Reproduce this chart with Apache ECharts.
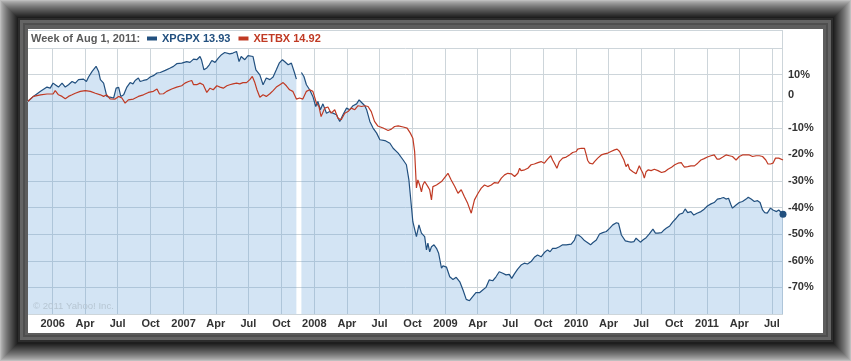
<!DOCTYPE html>
<html><head><meta charset="utf-8">
<script src="https://cdn.jsdelivr.net/npm/echarts@6/dist/echarts.min.js"></script>
<style>
html,body{margin:0;padding:0;width:851px;height:361px;overflow:hidden;background:#bdbdbd;}
.fr{position:absolute;}
#band1{position:absolute;left:18px;top:18px;width:815px;height:324px;background:#2c2c2c;}
#band2{position:absolute;left:20px;top:20px;width:811px;height:320px;background:#646464;}
#band3{position:absolute;left:23px;top:23px;width:805px;height:314px;background:#4e4e4e;}
#band4{position:absolute;left:25px;top:25px;width:801px;height:310px;background:#5d5d5d;}
#panel{position:absolute;left:28px;top:29px;width:795px;height:304px;background:#fff;}
#box{position:absolute;left:28px;top:30px;width:754px;height:283px;border-top:1px solid #cdd5da;border-right:1px solid #cdd5da;}
#chart{position:absolute;left:0;top:0;width:851px;height:361px;}
</style></head>
<body>
<div id="frames"></div>
<div id="band1"></div><div id="band2"></div><div id="band3"></div><div id="band4"></div>
<div id="panel"></div><div id="box"></div>
<div id="chart"></div>
<script>
// ---- data (percent change since first week) ----
const headerText = 'Week of Aug 1, 2011:';
const seriesNames = ['XPGPX', 'XETBX'];
const lastPrices = [13.93, 14.92];
const xTickDates = ['2006-01-01','2006-04-01','2006-07-01','2006-10-01','2007-01-01','2007-04-01','2007-07-01','2007-10-01','2008-01-01','2008-04-01','2008-07-01','2008-10-01','2009-01-01','2009-04-01','2009-07-01','2009-10-01','2010-01-01','2010-04-01','2010-07-01','2010-10-01','2011-01-01','2011-04-01','2011-07-01'];
const xTickLabels = ['2006','Apr','Jul','Oct','2007','Apr','Jul','Oct','2008','Apr','Jul','Oct','2009','Apr','Jul','Oct','2010','Apr','Jul','Oct','2011','Apr','Jul'];
const xRange = ['2005-10-24', '2011-08-01'];
const yTicks = [20, 10, 0, -10, -20, -30, -40, -50, -60, -70, -80];

const xpgpx = [
['2005-10-24',0],['2005-11-08',1.8],['2005-11-28',3.7],['2005-12-16',5.3],['2005-12-25',4.9],
['2006-01-02',6.8],['2006-01-08',6.2],['2006-01-17',5.3],['2006-01-27',6.8],['2006-02-05',5.3],
['2006-02-14',6.2],['2006-02-24',7.4],['2006-03-05',6.8],['2006-03-14',8.1],['2006-03-28',8.3],
['2006-04-05',7.4],['2006-04-11',9.1],['2006-04-21',11.2],['2006-05-02',13.1],['2006-05-09',11.2],
['2006-05-14',8.1],['2006-05-23',6.8],['2006-06-01',1.8],['2006-06-10',1.5],['2006-06-20',1.2],
['2006-06-27',4.9],['2006-07-04',5.2],['2006-07-10',1.8],['2006-07-18',2.4],['2006-07-27',5.3],
['2006-08-05',7.0],['2006-08-13',6.5],['2006-08-19',7.8],['2006-08-28',8.7],['2006-09-02',7.4],
['2006-09-11',7.8],['2006-09-21',8.1],['2006-09-30',9.1],['2006-10-09',9.6],['2006-10-19',10.6],
['2006-10-28',10.8],['2006-11-11',11.6],['2006-11-25',12.5],['2006-12-04',13.1],['2006-12-13',14.1],
['2006-12-27',14.3],['2007-01-01',14.1],['2007-01-10',14.9],['2007-01-19',14.6],['2007-01-29',15.8],
['2007-02-07',15.6],['2007-02-16',16.8],['2007-02-20',15.6],['2007-02-27',11.8],['2007-03-07',12.5],
['2007-03-14',13.7],['2007-03-21',15.3],['2007-03-30',14.6],['2007-04-08',16.2],['2007-04-17',17.5],
['2007-04-26',18.3],['2007-05-10',17.8],['2007-05-19',18.1],['2007-05-29',18.7],['2007-06-05',14.9],
['2007-06-11',16.8],['2007-06-21',15.6],['2007-06-30',17.1],['2007-07-14',16.8],['2007-07-22',11.8],
['2007-08-02',9.9],['2007-08-11',6.2],['2007-08-20',8.7],['2007-08-30',8.1],['2007-09-08',9.1],
['2007-09-17',11.8],['2007-09-25',14.3],['2007-10-04',15.6],['2007-10-10',14.9],['2007-10-20',13.7],
['2007-10-29',14.3],['2007-11-07',10.6],['2007-11-12',8.3],['2007-11-19',null],['2007-11-26',10.8],
['2007-12-03',9.3],['2007-12-10',6.2],['2007-12-19',4.3],['2007-12-28',1.8],['2008-01-05',-2.0],
['2008-01-11',-0.1],['2008-01-18',-3.2],['2008-01-25',-1.0],['2008-02-04',-4.5],['2008-02-13',-3.9],
['2008-02-22',-4.5],['2008-03-03',-5.1],['2008-03-12',-7.6],['2008-03-21',-5.1],['2008-03-31',-2.6],
['2008-04-09',-3.2],['2008-04-18',-1.7],['2008-04-28',-1.0],['2008-05-05',0.5],['2008-05-12',-0.5],
['2008-05-21',-1.7],['2008-05-26',-3.2],['2008-06-04',-7.6],['2008-06-13',-10.1],['2008-06-23',-12.0],
['2008-07-02',-14.5],['2008-07-16',-14.8],['2008-07-30',-15.8],['2008-08-08',-17.7],['2008-08-22',-19.5],
['2008-09-05',-22.1],['2008-09-14',-23.9],['2008-09-21',-29.6],['2008-09-28',-39.6],['2008-10-02',-45.3],
['2008-10-07',-45.9],['2008-10-12',-50.9],['2008-10-19',-46.5],['2008-10-26',-49.6],['2008-11-04',-50.9],
['2008-11-09',-55.9],['2008-11-13',-53.4],['2008-11-18',-56.6],['2008-11-23',-54.7],['2008-11-30',-54.0],
['2008-12-07',-55.3],['2008-12-13',-57.2],['2008-12-21',-62.8],['2008-12-25',-61.9],['2009-01-04',-62.4],
['2009-01-13',-66.0],['2009-01-22',-67.0],['2009-01-31',-66.2],['2009-02-10',-67.9],['2009-02-19',-71.0],
['2009-02-28',-74.5],['2009-03-09',-75.0],['2009-03-18',-73.5],['2009-03-27',-72.0],['2009-04-06',-72.0],
['2009-04-15',-71.0],['2009-04-24',-70.0],['2009-05-03',-67.2],['2009-05-13',-67.5],['2009-05-22',-66.0],
['2009-05-31',-64.1],['2009-06-10',-64.7],['2009-06-19',-65.3],['2009-06-28',-65.1],['2009-07-05',-66.6],
['2009-07-12',-65.0],['2009-07-21',-63.2],['2009-07-31',-61.6],['2009-08-09',-60.9],['2009-08-18',-61.2],
['2009-08-28',-60.3],['2009-09-06',-58.7],['2009-09-15',-57.8],['2009-09-25',-58.5],['2009-10-04',-56.9],
['2009-10-13',-55.9],['2009-10-20',-56.6],['2009-10-27',-55.3],['2009-11-06',-55.3],['2009-11-15',-54.7],
['2009-11-24',-54.0],['2009-12-04',-54.0],['2009-12-18',-53.7],['2009-12-27',-52.2],['2010-01-01',-50.3],
['2010-01-07',-50.3],['2010-01-15',-51.1],['2010-01-24',-52.4],['2010-02-02',-53.2],['2010-02-10',-54.0],
['2010-02-16',-53.2],['2010-02-26',-52.2],['2010-03-07',-49.9],['2010-03-16',-49.4],['2010-03-26',-49.0],
['2010-04-04',-47.8],['2010-04-13',-46.5],['2010-04-23',-45.7],['2010-04-29',-45.9],['2010-05-07',-50.3],
['2010-05-12',-49.9],['2010-05-18',-52.5],['2010-05-27',-52.8],['2010-06-03',-53.0],['2010-06-11',-52.8],
['2010-06-17',-51.5],['2010-06-22',-52.2],['2010-06-29',-53.0],['2010-07-06',-52.2],['2010-07-15',-51.3],
['2010-07-24',-49.9],['2010-08-03',-48.1],['2010-08-10',-49.6],['2010-08-17',-49.6],['2010-08-27',-49.4],
['2010-09-03',-48.4],['2010-09-09',-47.8],['2010-09-19',-46.9],['2010-09-28',-45.3],['2010-10-07',-44.0],
['2010-10-16',-42.5],['2010-10-25',-42.1],['2010-11-01',-40.5],['2010-11-08',-41.9],['2010-11-17',-41.5],
['2010-11-25',-42.8],['2010-12-04',-42.1],['2010-12-15',-41.5],['2010-12-24',-40.6],['2011-01-02',-39.4],
['2011-01-12',-38.6],['2011-01-21',-38.1],['2011-01-30',-36.8],['2011-02-09',-36.5],['2011-02-16',-36.2],
['2011-02-23',-36.8],['2011-03-02',-36.5],['2011-03-09',-39.0],['2011-03-13',-40.2],['2011-03-23',-39.0],
['2011-04-01',-38.1],['2011-04-10',-37.7],['2011-04-20',-36.8],['2011-04-26',-36.1],['2011-05-04',-36.8],
['2011-05-13',-37.7],['2011-05-22',-37.4],['2011-05-29',-38.1],['2011-06-05',-40.9],['2011-06-11',-41.9],
['2011-06-18',-42.1],['2011-06-27',-40.2],['2011-07-04',-40.9],['2011-07-14',-41.5],['2011-07-20',-40.9],
['2011-08-01',-42.5]
];

const xetbx = [
['2005-10-24',0],['2005-11-08',1.8],['2005-11-28',2.4],['2005-12-16',2.7],['2006-01-02',2.7],
['2006-01-08',4.0],['2006-01-17',2.4],['2006-01-27',1.8],['2006-02-05',0.9],['2006-02-14',1.8],
['2006-02-24',2.4],['2006-03-05',3.0],['2006-03-19',3.7],['2006-04-02',4.0],['2006-04-16',3.7],
['2006-04-30',3.0],['2006-05-14',2.4],['2006-05-23',1.8],['2006-06-01',2.4],['2006-06-10',0.9],
['2006-06-24',0.8],['2006-07-04',1.8],['2006-07-13',1.2],['2006-07-22',-0.7],['2006-07-31',0.5],
['2006-08-14',0.8],['2006-08-28',1.8],['2006-09-11',2.4],['2006-09-25',3.3],['2006-10-09',3.7],
['2006-10-19',4.6],['2006-10-26',2.7],['2006-11-06',2.8],['2006-11-15',3.7],['2006-11-29',4.6],
['2006-12-13',5.3],['2006-12-27',5.8],['2007-01-05',6.8],['2007-01-15',7.4],['2007-01-24',7.8],
['2007-01-29',6.2],['2007-02-07',6.2],['2007-02-16',6.8],['2007-02-25',6.2],['2007-03-07',3.3],
['2007-03-16',4.9],['2007-03-25',4.3],['2007-04-04',5.8],['2007-04-13',5.3],['2007-04-22',4.9],
['2007-05-02',5.8],['2007-05-10',6.2],['2007-05-19',6.5],['2007-05-29',6.8],['2007-06-07',6.5],
['2007-06-16',7.0],['2007-06-26',7.0],['2007-07-05',8.1],['2007-07-12',9.3],['2007-07-19',7.0],
['2007-07-25',4.3],['2007-08-02',1.5],['2007-08-11',2.4],['2007-08-20',1.8],['2007-08-30',2.8],
['2007-09-08',4.0],['2007-09-17',5.3],['2007-09-27',6.2],['2007-10-06',7.0],['2007-10-15',5.8],
['2007-10-24',4.3],['2007-11-02',3.7],['2007-11-12',0.8],['2007-11-21',1.2],['2007-11-30',0.8],
['2007-12-10',3.7],['2007-12-19',4.3],['2007-12-28',3.7],['2008-01-07',-0.7],['2008-01-14',-2.0],
['2008-01-20',-5.8],['2008-01-30',-2.6],['2008-02-08',-2.2],['2008-02-17',-4.5],['2008-02-27',-3.2],
['2008-03-07',-6.4],['2008-03-16',-7.0],['2008-03-26',-4.5],['2008-04-04',-3.9],['2008-04-13',-2.6],
['2008-04-23',-3.2],['2008-05-02',-1.7],['2008-05-12',-2.0],['2008-05-21',-1.7],['2008-05-30',-2.0],
['2008-06-08',-3.9],['2008-06-17',-7.6],['2008-06-26',-9.3],['2008-07-11',-10.1],['2008-07-25',-11.0],
['2008-08-03',-10.5],['2008-08-12',-9.5],['2008-08-22',-9.3],['2008-09-05',-9.7],['2008-09-16',-10.1],
['2008-09-25',-12.0],['2008-10-02',-13.9],['2008-10-07',-18.9],['2008-10-12',-32.6],['2008-10-16',-29.6],
['2008-10-21',-31.5],['2008-10-26',-34.1],['2008-10-30',-31.5],['2008-11-04',-30.2],['2008-11-13',-32.1],
['2008-11-18',-33.3],['2008-11-23',-37.1],['2008-11-27',-32.1],['2008-12-07',-31.5],['2008-12-21',-30.2],
['2009-01-08',-27.1],['2009-01-17',-29.6],['2009-01-27',-32.1],['2009-02-05',-34.6],['2009-02-14',-33.3],
['2009-02-23',-35.9],['2009-03-04',-38.4],['2009-03-14',-42.1],['2009-03-23',-37.1],['2009-04-02',-34.6],
['2009-04-11',-32.7],['2009-04-20',-31.5],['2009-04-29',-32.1],['2009-05-09',-31.5],['2009-05-18',-30.6],
['2009-05-28',-30.8],['2009-06-06',-28.9],['2009-06-15',-27.7],['2009-06-24',-27.1],['2009-07-04',-27.3],
['2009-07-13',-28.3],['2009-07-22',-27.1],['2009-07-27',-25.2],['2009-07-31',-26.1],['2009-08-10',-25.8],
['2009-08-19',-25.2],['2009-08-28',-23.9],['2009-09-06',-23.6],['2009-09-16',-23.1],['2009-09-25',-22.7],
['2009-10-04',-23.3],['2009-10-13',-21.8],['2009-10-22',-20.5],['2009-10-27',-22.1],['2009-11-01',-23.3],
['2009-11-08',-25.2],['2009-11-15',-22.7],['2009-11-24',-21.4],['2009-12-04',-21.0],['2009-12-13',-20.2],
['2009-12-22',-19.3],['2010-01-01',-18.9],['2010-01-05',-18.0],['2010-01-15',-17.7],['2010-01-19',-17.3],
['2010-01-24',-17.7],['2010-01-29',-20.2],['2010-02-02',-22.3],['2010-02-07',-23.3],['2010-02-16',-23.6],
['2010-02-21',-22.7],['2010-03-02',-21.4],['2010-03-12',-20.2],['2010-03-21',-19.8],['2010-03-30',-19.5],
['2010-04-08',-18.9],['2010-04-18',-18.3],['2010-04-25',-18.0],['2010-05-02',-18.9],['2010-05-06',-19.5],
['2010-05-14',-22.1],['2010-05-20',-24.6],['2010-05-25',-23.6],['2010-05-30',-25.6],['2010-06-08',-26.5],
['2010-06-17',-27.3],['2010-06-22',-25.6],['2010-06-26',-24.3],['2010-07-01',-25.8],['2010-07-06',-27.1],
['2010-07-10',-28.9],['2010-07-15',-26.5],['2010-07-21',-25.8],['2010-07-29',-26.1],['2010-08-07',-25.6],
['2010-08-17',-26.1],['2010-08-27',-26.8],['2010-09-05',-26.5],['2010-09-14',-25.6],['2010-09-24',-24.8],
['2010-10-03',-23.9],['2010-10-12',-23.3],['2010-10-21',-23.1],['2010-10-25',-23.9],['2010-10-30',-24.8],
['2010-11-08',-24.6],['2010-11-17',-24.3],['2010-11-27',-24.3],['2010-12-06',-23.3],['2010-12-15',-22.1],
['2010-12-24',-21.6],['2011-01-02',-21.0],['2011-01-12',-20.5],['2011-01-21',-20.2],['2011-01-29',-21.8],
['2011-02-04',-21.8],['2011-02-14',-21.0],['2011-02-23',-20.2],['2011-03-04',-20.5],['2011-03-13',-20.8],
['2011-03-23',-22.1],['2011-04-01',-20.8],['2011-04-10',-20.2],['2011-04-20',-20.2],['2011-04-29',-20.2],
['2011-05-08',-20.8],['2011-05-18',-20.5],['2011-05-27',-20.5],['2011-06-05',-20.8],['2011-06-14',-22.1],
['2011-06-20',-23.6],['2011-06-27',-23.6],['2011-07-04',-23.3],['2011-07-11',-21.4],['2011-07-20',-21.4],
['2011-08-01',-22.1]
];

// ---- picture-frame bevel (decoration only) ----
(function () {
  const host = document.getElementById('frames');
  const steps = 18;
  for (let i = 0; i < steps; i++) {
    const t = i / (steps - 1);
    const c = Math.round(190 - (190 - 30) * Math.pow(t, 0.8));
    const d = document.createElement('div');
    d.className = 'fr';
    d.style.left = i + 'px'; d.style.top = i + 'px';
    d.style.width = (851 - 2 * i) + 'px'; d.style.height = (361 - 2 * i) + 'px';
    d.style.background = 'rgb(' + c + ',' + c + ',' + c + ')';
    host.appendChild(d);
  }
})();

// ---- styling ----
const blue = '#22507f';
const red = '#c03a24';
const gridColor = '#cdd5da';
const font = 'Liberation Sans';

const toTime = d => Date.UTC(+d.slice(0, 4), +d.slice(5, 7) - 1, +d.slice(8, 10));
const tickTimes = xTickDates.map(toTime);

const blueData = xpgpx.map((p, i) => {
  const item = { value: [toTime(p[0]), p[1]] };
  if (i === xpgpx.length - 1) { item.symbol = 'circle'; item.symbolSize = 7; }
  return item;
});
const redData = xetbx.map(p => [toTime(p[0]), p[1]]);

const chart = echarts.init(document.getElementById('chart'), null, { renderer: 'canvas' });
chart.setOption({
  animation: false,
  backgroundColor: 'transparent',
  textStyle: { fontFamily: font },
  grid: { left: 28, right: 68, top: 48, bottom: 47 },
  title: {
    text: headerText, left: 31, top: 33, padding: 0,
    textStyle: { fontSize: 11, fontWeight: 'bold', color: '#5a5a5a', fontFamily: font }
  },
  legend: {
    left: 147, top: 33, padding: 0, icon: 'rect', itemWidth: 10, itemHeight: 4, itemGap: 8,
    formatter: name => name + ' ' + lastPrices[seriesNames.indexOf(name)].toFixed(2),
    data: [
      { name: seriesNames[0], textStyle: { color: blue } },
      { name: seriesNames[1], textStyle: { color: red } }
    ],
    textStyle: { fontSize: 11, fontWeight: 'bold', fontFamily: font }
  },
  xAxis: {
    type: 'value', min: toTime(xRange[0]), max: toTime(xRange[1]),
    axisLine: { show: true, lineStyle: { color: gridColor } },
    axisTick: { show: false, customValues: tickTimes },
    axisLabel: {
      customValues: tickTimes, margin: 4, fontSize: 11, fontWeight: 'bold', color: '#333', fontFamily: font,
      formatter: v => { const i = tickTimes.indexOf(+v); return i >= 0 ? xTickLabels[i] : ''; }
    },
    splitLine: { show: true, lineStyle: { color: gridColor, width: 1 } }
  },
  yAxis: {
    type: 'value', position: 'right', min: yTicks[yTicks.length - 1], max: yTicks[0], interval: 10,
    axisLine: { show: false }, axisTick: { show: false },
    axisLabel: {
      margin: 5, fontSize: 11, fontWeight: 'bold', color: '#333', fontFamily: font,
      formatter: v => (v === yTicks[0] || v === yTicks[yTicks.length - 1]) ? '' : (v === 0 ? '{z|0}' : v + '%'),
      rich: { z: { fontSize: 11, fontWeight: 'bold', color: '#333', fontFamily: font, padding: [0, 0, 13, 0] } }
    },
    splitLine: { show: true, lineStyle: { color: gridColor, width: 1 } }
  },
  graphic: [{
    type: 'text', left: 33, top: 301, z: 10,
    style: { text: '© 2011 Yahoo! Inc.', fill: '#b7c6d3', font: '9.6px "Liberation Sans"' }
  }],
  series: [
    {
      name: seriesNames[0], type: 'line', data: blueData, symbol: 'none', showSymbol: true,
      connectNulls: false, z: 3,
      lineStyle: { color: blue, width: 1.2 }, itemStyle: { color: blue },
      areaStyle: { color: 'rgba(91,155,213,0.27)', opacity: 1, origin: 'start' }
    },
    {
      name: seriesNames[1], type: 'line', data: redData, symbol: 'none', z: 4,
      lineStyle: { color: red, width: 1.2 }, itemStyle: { color: red }
    }
  ]
});
</script>
</body></html>
